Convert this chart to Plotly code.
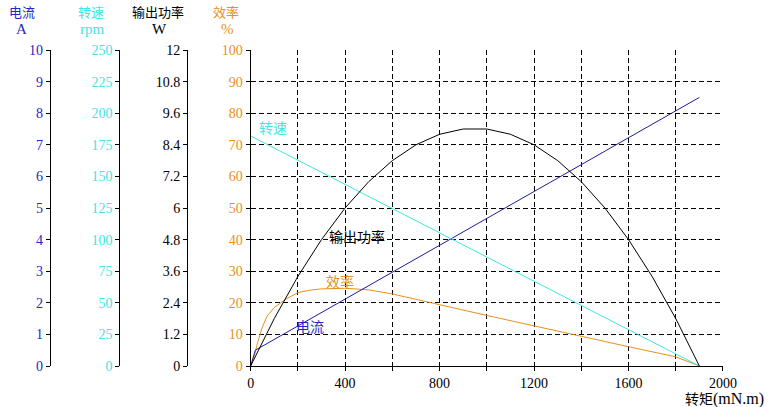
import plotly.graph_objects as go

# Data
torque_speed = [0, 1900]
speed_rpm = [182, 0]

torque_current = [0, 20, 1900]
current_a = [0, 0.5, 8.5]

torque_power = [0, 100, 200, 300, 400, 500, 600, 700, 800, 900, 1000,
                1100, 1200, 1300, 1400, 1500, 1600, 1700, 1800, 1900]
power_w = [0, 1.8, 3.4, 4.8, 6.0, 7.0, 7.8, 8.4, 8.8, 9.0, 9.0,
           8.8, 8.4, 7.8, 7.0, 6.0, 4.8, 3.4, 1.8, 0]

torque_eff = [0, 15, 30, 50, 70, 100, 150, 200, 250, 300, 400, 500, 600,
              800, 1000, 1200, 1400, 1600, 1800, 1900]
eff_pct = [0, 3, 7.5, 12.4, 15.8, 18.5, 21.2, 23.2, 24.0, 24.4, 24.6, 24.1, 22.8,
           19.3, 16.0, 12.7, 9.3, 6.1, 2.9, 0]

x_tickvals = [0, 200, 400, 600, 800, 1000, 1200, 1400, 1600, 1800, 2000]
x_ticktext = ["0", "", "400", "", "800", "", "1200", "", "1600", "", "2000"]
a_ticks = list(range(0, 11))
rpm_ticks = [0, 25, 50, 75, 100, 125, 150, 175, 200, 225, 250]
w_ticks = [0, 1.2, 2.4, 3.6, 4.8, 6, 7.2, 8.4, 9.6, 10.8, 12]
w_text = ["0", "1.2", "2.4", "3.6", "4.8", "6", "7.2", "8.4", "9.6", "10.8", "12"]
pct_ticks = list(range(0, 101, 10))

BLUE_LINE = "#1c1c9a"
BLUE_TXT = "#2626c4"
CYAN = "#3ee6e6"
ORANGE = "#e8901e"
BLACK = "#000000"

W, H = 769, 407
ML, MR, MT, MB = 0, 46, 50, 41
PW = W - ML - MR
PH = H - MT - MB

def px_x(p):
    return (p - ML) / PW

def px_y(p):
    return (H - MB - p) / PH

SERIF = "Liberation Serif, Times New Roman, serif"
num_font = dict(family=SERIF, size=14)
cjk = "Noto Sans CJK SC, sans-serif"

fig = go.Figure()
fig.add_trace(go.Scatter(x=torque_current, y=current_a, yaxis="y2", mode="lines",
                         line=dict(color=BLUE_LINE, width=1), showlegend=False))
fig.add_trace(go.Scatter(x=torque_speed, y=speed_rpm, yaxis="y3", mode="lines",
                         line=dict(color=CYAN, width=1), showlegend=False))
fig.add_trace(go.Scatter(x=torque_power, y=power_w, yaxis="y4", mode="lines",
                         line=dict(color=BLACK, width=1), showlegend=False))
fig.add_trace(go.Scatter(x=torque_eff, y=eff_pct, yaxis="y", mode="lines",
                         line=dict(color=ORANGE, width=1), showlegend=False))

common_y = dict(showline=True, linecolor="black", linewidth=1, ticks="outside",
                ticklen=4, tickcolor="black", showgrid=False, zeroline=False,
                fixedrange=True)

fig.update_layout(
    width=W, height=H,
    margin=dict(l=ML, r=MR, t=MT, b=MB, pad=0),
    paper_bgcolor="white", plot_bgcolor="white",
    xaxis=dict(domain=[px_x(248), 1], range=[0, 2000], tickvals=x_tickvals,
               ticktext=x_ticktext, showgrid=True, gridcolor="black",
               griddash="5px,3px", gridwidth=1, showline=True, linecolor="black",
               ticks="outside", ticklen=4, tickcolor="black", zeroline=False,
               tickfont=dict(color="black", **num_font)),
    yaxis=dict(range=[0, 100], tickvals=pct_ticks, showgrid=True, gridcolor="black",
               griddash="5px,3px", gridwidth=1, showline=True, linecolor="black",
               ticks="outside", ticklen=4, tickcolor="black", zeroline=False,
               tickfont=dict(color=ORANGE, **num_font)),
    yaxis2=dict(range=[0, 10], tickvals=a_ticks, overlaying="y", anchor="free",
                position=px_x(46), side="left",
                tickfont=dict(color=BLUE_TXT, **num_font), **common_y),
    yaxis3=dict(range=[0, 250], tickvals=rpm_ticks, overlaying="y", anchor="free",
                position=px_x(116), side="left",
                tickfont=dict(color=CYAN, **num_font), **common_y),
    yaxis4=dict(range=[0, 12], tickvals=w_ticks, ticktext=w_text, overlaying="y",
                anchor="free", position=px_x(184), side="left",
                tickfont=dict(color="black", **num_font), **common_y),
)

annots = [
    ("电流", 18, 11, BLUE_TXT, cjk), ("A", 18, 29, BLUE_TXT, SERIF),
    ("转速", 87, 11, CYAN, cjk), ("rpm", 88, 29, CYAN, SERIF),
    ("输出功率", 155, 11, "black", cjk), ("W", 156, 29, "black", SERIF),
    ("效率", 223, 11, ORANGE, cjk), ("%", 225, 29, ORANGE, SERIF),
]
for txt, x, y, col, fam in annots:
    fig.add_annotation(text=txt, xref="paper", yref="paper", x=px_x(x), y=px_y(y),
                       showarrow=False, xanchor="center", yanchor="middle",
                       font=dict(family=fam, size=13 if fam == cjk else 15, color=col))

fig.add_annotation(
    text="转矩<span style='font-family:Liberation Serif;font-size:16px'>(mN.m)</span>",
    xref="paper", yref="paper", x=px_x(766), y=px_y(398),
    showarrow=False, xanchor="right", yanchor="middle",
    font=dict(family=cjk, size=14, color="black"))

# in-plot labels, placed in data coordinates of the % axis
labels = [("转速", 93, 75.5, CYAN), ("输出功率", 450, 41, "black"),
          ("效率", 380, 26.8, ORANGE), ("电流", 250, 12.7, BLUE_TXT)]
for txt, x, y, col in labels:
    fig.add_annotation(text=txt, x=x, y=y, xref="x", yref="y", showarrow=False,
                       xanchor="center", yanchor="middle",
                       font=dict(family=cjk, size=14, color=col))

fig.write_html("out.html", config={"displayModeBar": False},
               post_script="document.body.style.margin='0';document.body.style.padding='0';document.body.style.overflow='hidden';")
